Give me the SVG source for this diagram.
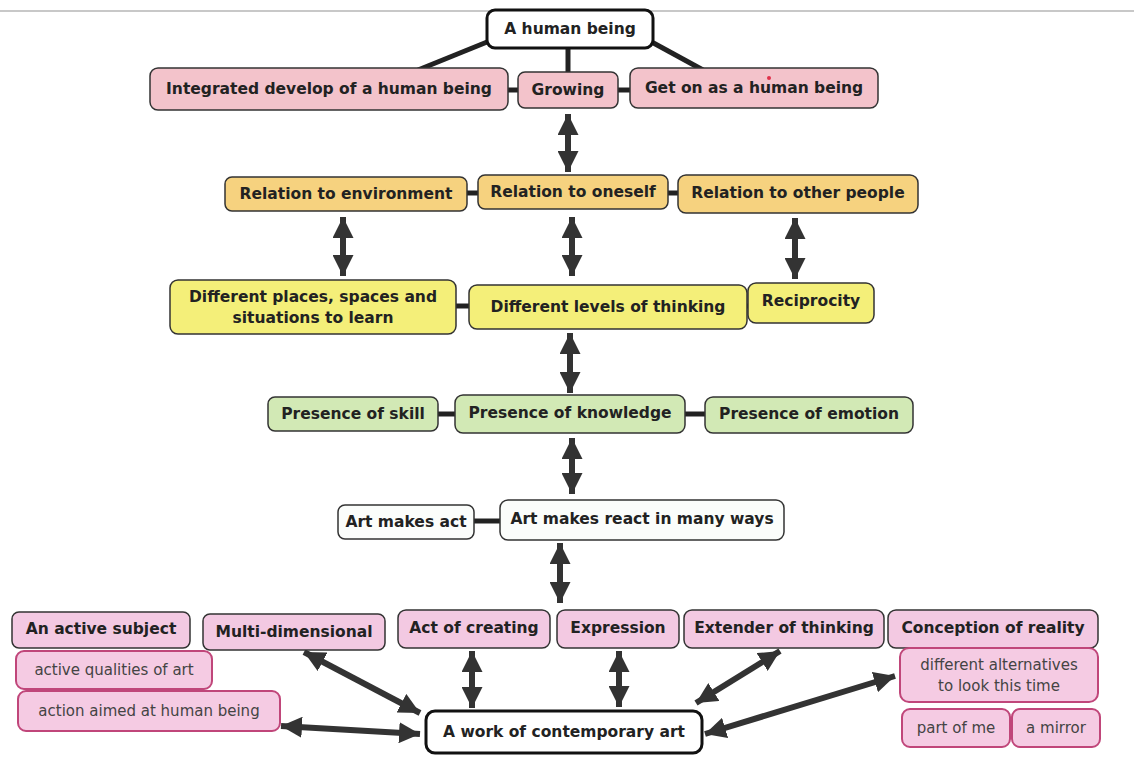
<svg xmlns="http://www.w3.org/2000/svg" width="1134" height="783" viewBox="0 0 1134 783">
<defs>
<marker id="ah" viewBox="0 0 10 10" refX="10" refY="5" markerUnits="userSpaceOnUse" markerWidth="21" markerHeight="21" orient="auto-start-reverse">
<path d="M0,0 L10,5 L0,10 z" fill="#333"/>
</marker>
<style>
.n rect{stroke:#333;stroke-width:1.5}
.pk rect{fill:#f3c3cb}
.or rect{fill:#f6d27f}
.ye rect{fill:#f4ef79}
.gr rect{fill:#d2e9b5}
.wh rect{fill:#fbfdfb}
.mg rect{fill:#f3c9e2}
.sub rect{fill:#f5cbe3;stroke:#c0467a;stroke-width:2}
.root rect{fill:#fff;stroke:#111;stroke-width:3}
.n text{font-family:"DejaVu Sans",Verdana,sans-serif;font-weight:bold;font-size:15.5px;fill:#222;text-anchor:middle;dominant-baseline:central}
.sub text{font-weight:normal;fill:#444;font-size:15px}
.c line{stroke:#222;stroke-width:5}
.a line{stroke:#333;stroke-width:6;marker-start:url(#ah);marker-end:url(#ah)}
</style>
</defs>
<rect width="1134" height="783" fill="#fff"/>
<line x1="0" y1="11" x2="1134" y2="11" stroke="#c8c8c8" stroke-width="2"/>

<g id="connectors">
<g class="c">
<line x1="492" y1="40" x2="418" y2="70"/>
<line x1="568" y1="48" x2="568" y2="73"/>
<line x1="648" y1="40" x2="703" y2="70"/>
<line x1="507" y1="90" x2="519" y2="90"/>
<line x1="617" y1="90" x2="631" y2="90"/>
<line x1="466" y1="193" x2="479" y2="193"/>
<line x1="667" y1="193" x2="679" y2="193"/>
<line x1="455" y1="306" x2="470" y2="306"/>
<line x1="746" y1="306" x2="749" y2="306"/>
<line x1="437" y1="414" x2="456" y2="414"/>
<line x1="684" y1="414" x2="706" y2="414"/>
<line x1="473" y1="521" x2="501" y2="521"/>
</g>
<g class="a">
<line x1="568" y1="114" x2="568" y2="172"/>
<line x1="343" y1="217" x2="343" y2="276"/>
<line x1="572" y1="217" x2="572" y2="276"/>
<line x1="795" y1="218" x2="795" y2="279"/>
<line x1="570" y1="333" x2="570" y2="393"/>
<line x1="572" y1="438" x2="572" y2="494"/>
<line x1="560" y1="543" x2="560" y2="603"/>
<line x1="304" y1="652" x2="420" y2="713"/>
<line x1="281" y1="726" x2="420" y2="734"/>
<line x1="472" y1="651" x2="472" y2="708"/>
<line x1="619" y1="651" x2="619" y2="707"/>
<line x1="780" y1="651" x2="696" y2="703"/>
<line x1="895" y1="676" x2="705" y2="734"/>
</g>
</g>

<g id="n-human" class="n root"><rect x="487" y="10" width="166" height="38" rx="8"/><text x="570" y="29">A human being</text></g>
<g id="n-integrated" class="n pk"><rect x="150" y="68" width="358" height="42" rx="8"/><text x="329" y="89">Integrated develop of a human being</text></g>
<g id="n-growing" class="n pk"><rect x="518" y="72" width="100" height="36" rx="7"/><text x="568" y="90">Growing</text></g>
<g id="n-geton" class="n pk"><rect x="630" y="68" width="248" height="40" rx="8"/><text x="754" y="88">Get on as a human being</text><circle cx="769" cy="78" r="2" fill="#e0304a"/></g>

<g id="n-env" class="n or"><rect x="225" y="177" width="242" height="34" rx="7"/><text x="346" y="194">Relation to environment</text></g>
<g id="n-oneself" class="n or"><rect x="478" y="175" width="190" height="34" rx="7"/><text x="573" y="192">Relation to oneself</text></g>
<g id="n-other" class="n or"><rect x="678" y="175" width="240" height="38" rx="8"/><text x="798" y="193">Relation to other people</text></g>

<g id="n-places" class="n ye"><rect x="170" y="280" width="286" height="54" rx="8"/><text x="313" y="297">Different places, spaces and</text><text x="313" y="318">situations to learn</text></g>
<g id="n-levels" class="n ye"><rect x="469" y="285" width="278" height="44" rx="8"/><text x="608" y="307">Different levels of thinking</text></g>
<g id="n-recip" class="n ye"><rect x="748" y="283" width="126" height="40" rx="8"/><text x="811" y="301">Reciprocity</text></g>

<g id="n-skill" class="n gr"><rect x="268" y="397" width="170" height="34" rx="7"/><text x="353" y="414">Presence of skill</text></g>
<g id="n-knowledge" class="n gr"><rect x="455" y="395" width="230" height="38" rx="8"/><text x="570" y="413">Presence of knowledge</text></g>
<g id="n-emotion" class="n gr"><rect x="705" y="397" width="208" height="36" rx="8"/><text x="809" y="414">Presence of emotion</text></g>

<g id="n-act" class="n wh"><rect x="338" y="505" width="136" height="34" rx="7"/><text x="406" y="522">Art makes act</text></g>
<g id="n-react" class="n wh"><rect x="500" y="500" width="284" height="40" rx="8"/><text x="642" y="519">Art makes react in many ways</text></g>

<g id="n-subject" class="n mg"><rect x="12" y="612" width="178" height="36" rx="7"/><text x="101" y="629">An active subject</text></g>
<g id="n-multi" class="n mg"><rect x="203" y="614" width="182" height="36" rx="7"/><text x="294" y="632">Multi-dimensional</text></g>
<g id="n-creating" class="n mg"><rect x="398" y="610" width="152" height="38" rx="8"/><text x="474" y="628">Act of creating</text></g>
<g id="n-expression" class="n mg"><rect x="557" y="610" width="122" height="38" rx="8"/><text x="618" y="628">Expression</text></g>
<g id="n-extender" class="n mg"><rect x="684" y="610" width="200" height="38" rx="8"/><text x="784" y="628">Extender of thinking</text></g>
<g id="n-conception" class="n mg"><rect x="888" y="610" width="210" height="38" rx="8"/><text x="993" y="628">Conception of reality</text></g>

<g id="n-qualities" class="n sub"><rect x="16" y="651" width="196" height="38" rx="8"/><text x="114" y="670">active qualities of art</text></g>
<g id="n-aimed" class="n sub"><rect x="18" y="691" width="262" height="40" rx="8"/><text x="149" y="711">action aimed at human being</text></g>
<g id="n-alternatives" class="n sub"><rect x="900" y="648" width="198" height="54" rx="9"/><text x="999" y="665">different alternatives</text><text x="999" y="686">to look this time</text></g>
<g id="n-partofme" class="n sub"><rect x="902" y="709" width="108" height="38" rx="8"/><text x="956" y="728">part of me</text></g>
<g id="n-mirror" class="n sub"><rect x="1012" y="709" width="88" height="38" rx="8"/><text x="1056" y="728">a mirror</text></g>

<g id="n-work" class="n root"><rect x="426" y="711" width="276" height="42" rx="9"/><text x="564" y="732">A work of contemporary art</text></g>
</svg>
